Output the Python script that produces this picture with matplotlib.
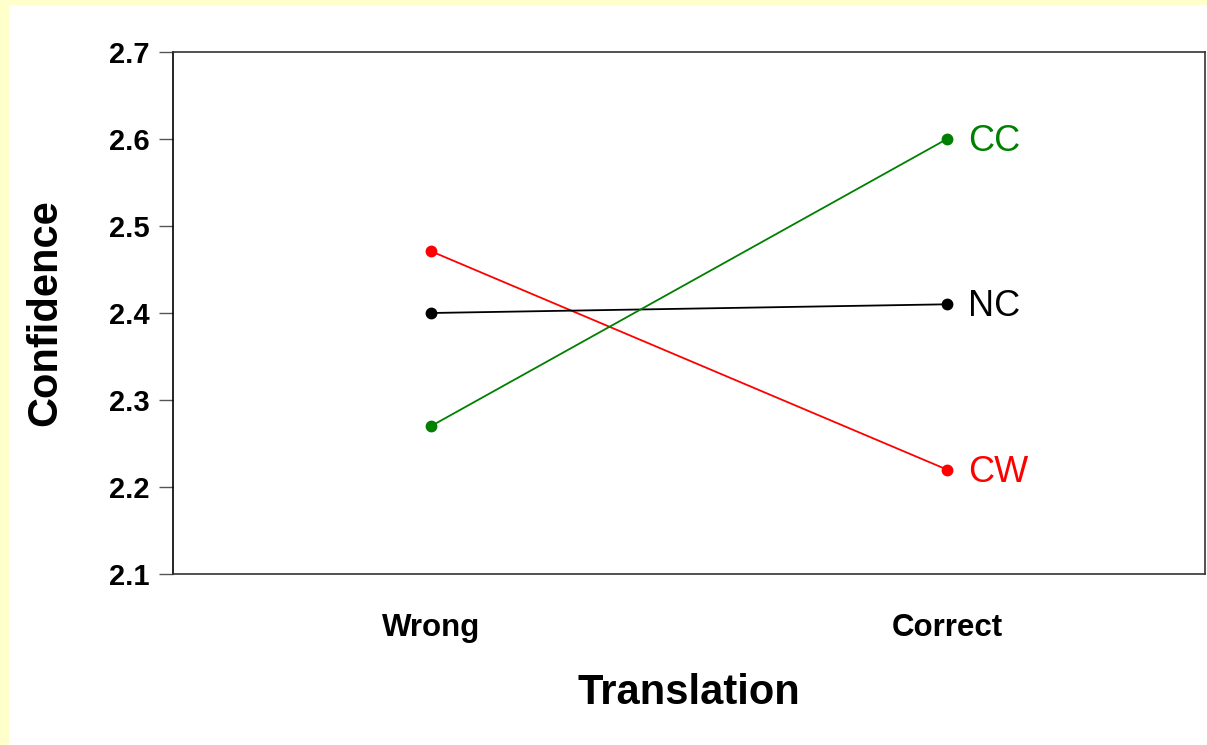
import matplotlib
matplotlib.use("Agg")
import matplotlib.pyplot as plt
from matplotlib.patches import Rectangle

plt.rcParams["font.family"] = ["Liberation Sans", "DejaVu Sans"]

conditions = ["Wrong", "Correct"]
series_names = ["CW", "NC", "CC"]
cw = [2.471, 2.22]
nc = [2.40, 2.41]
cc = [2.27, 2.60]
colors = {"CW": "#FF0000", "NC": "#000000", "CC": "#008000"}
yticks = [2.1, 2.2, 2.3, 2.4, 2.5, 2.6, 2.7]

fig = plt.figure(figsize=(12.07, 7.45), dpi=100)
fig.patch.set_facecolor("white")
# pale yellow strip at left and top edges
fig.patches.append(Rectangle((0, 0), 8 / 1207, 1, transform=fig.transFigure,
                             color="#FFFFCC", zorder=0))
fig.patches.append(Rectangle((0, 1 - 4 / 745), 1, 4 / 745, transform=fig.transFigure,
                             color="#FFFFCC", zorder=0))

ax = fig.add_axes([173 / 1207, 1 - 574 / 745, 1032 / 1207, 522 / 745])
xs = list(range(len(conditions)))
for name, vals in zip(series_names, [cw, nc, cc]):
    c = colors[name]
    ax.plot(xs, vals, color=c, lw=1.3, marker="o", ms=7.5, zorder=3)
    ax.text(xs[-1] + 0.04, vals[-1] - 0.003, name, color=c, fontsize=26,
            va="center", ha="left")

ax.set_xlim(-0.5, 1.5)
ax.set_ylim(2.1, 2.7)
ax.set_yticks(yticks)
ax.set_yticklabels(["%.1f" % v for v in yticks], fontsize=21, fontweight="bold")
ax.set_xticks(xs)
ax.set_xticklabels(conditions, fontsize=22.5, fontweight="bold")
ax.tick_params(axis="x", length=0, pad=28)
ax.tick_params(axis="y", length=10, width=1, pad=7, color="#555555")
for s in ax.spines.values():
    s.set_color("#333333")
    s.set_linewidth(1.2)
ax.spines["left"].set_color("black")

ax.set_xlabel("Translation", fontsize=30, fontweight="bold", labelpad=22)
ax.set_ylabel("Confidence", fontsize=30, fontweight="bold", labelpad=31)

fig.savefig("out.png", dpi=100)
